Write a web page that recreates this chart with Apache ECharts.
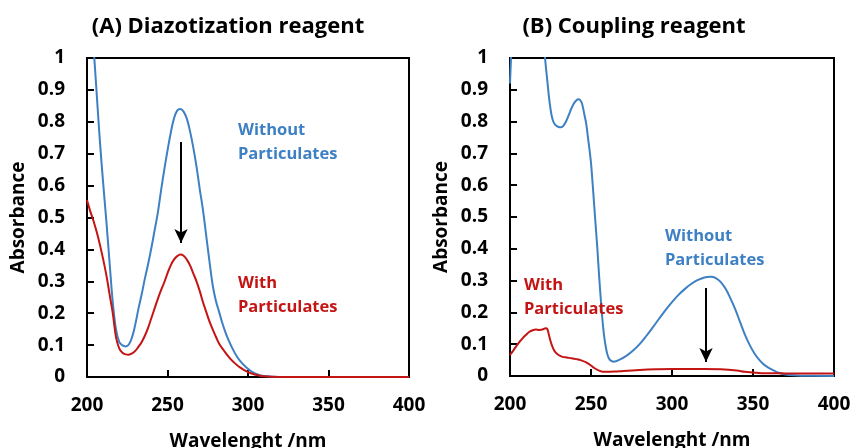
<!DOCTYPE html>
<html><head><meta charset="utf-8">
<script src="https://cdn.jsdelivr.net/npm/echarts@6/dist/echarts.min.js"></script>
<style>html,body{margin:0;padding:0;background:#fff}#c{width:853px;height:448px}</style>
</head><body><div id="c"></div>
<script>
// ---- data ----
const xTicks = [200, 250, 300, 350, 400];
const yTicks = [0, 0.1, 0.2, 0.3, 0.4, 0.5, 0.6, 0.7, 0.8, 0.9, 1];
const titles = ['(A) Diazotization reagent', '(B) Coupling reagent'];
const seriesNames = ['Without\nParticulates', 'With\nParticulates'];

// (A) Diazotization reagent, without particulates
const wlA_without = [200,202,204,206,208,210,212,214,216,218,220,222,224,226,228,230,232,234,236,238,240,242,244,246,248,250,252,254,256,258,260,262,264,266,268,270,272,274,276,278,280,282,284,286,288,290,293,296,299,302,306,310,315,320,400];
const absA_without = [1.33,1.18,1.04,0.89,0.74,0.61,0.49,0.36,0.235,0.15,0.11,0.099,0.096,0.102,0.125,0.165,0.215,0.26,0.31,0.355,0.405,0.46,0.515,0.585,0.65,0.71,0.765,0.81,0.835,0.84,0.832,0.81,0.77,0.72,0.66,0.59,0.525,0.445,0.365,0.29,0.24,0.205,0.17,0.14,0.115,0.093,0.065,0.045,0.03,0.018,0.008,0.003,0.001,0,0];
// (A) with particulates
const wlA_with = [200,202,204,206,208,210,212,214,216,218,220,222,224,226,228,230,232,234,236,238,240,242,244,246,248,250,252,254,256,258,260,262,264,266,268,270,272,274,276,278,280,282,285,288,291,295,300,305,310,320,400];
const absA_with = [0.555,0.52,0.49,0.455,0.415,0.37,0.32,0.26,0.2,0.125,0.09,0.076,0.071,0.07,0.074,0.082,0.095,0.11,0.13,0.155,0.185,0.215,0.245,0.272,0.297,0.325,0.35,0.368,0.379,0.384,0.38,0.368,0.35,0.325,0.3,0.27,0.235,0.205,0.175,0.15,0.127,0.105,0.083,0.063,0.047,0.03,0.015,0.007,0.002,0,0];
// (B) Coupling reagent, without particulates
const wlB_without = [200,201,202,205,210,215,218,220,221,222,223,224,225,226,227,228,230,231.5,233,235,237,239,241,242.5,244,245,246,247,248,249,250,251,252,253,254,255,256,257,258,259,260,261,262,264,268,272,276,280,284,288,292,296,300,304,308,312,316,320,324,327,330,333,336,339,342,345,348,351,354,357,360,363,366,370,375,380,400];
const absB_without = [0.92,1.05,1.2,1.5,1.7,1.6,1.35,1.12,1.04,0.98,0.93,0.88,0.84,0.812,0.797,0.789,0.783,0.782,0.787,0.805,0.83,0.853,0.867,0.87,0.862,0.845,0.82,0.795,0.755,0.715,0.67,0.605,0.535,0.465,0.395,0.315,0.245,0.18,0.13,0.095,0.07,0.056,0.049,0.045,0.052,0.064,0.08,0.1,0.125,0.152,0.18,0.207,0.232,0.255,0.274,0.29,0.302,0.31,0.312,0.308,0.296,0.275,0.245,0.21,0.17,0.13,0.097,0.07,0.05,0.035,0.025,0.017,0.01,0.005,0.002,0.001,0];
// (B) with particulates
const wlB_with = [200,202,204,206,208,210,212,214,216,218,220,222,223,224,225,226,227,228,230,232,235,238,241,244,247,250,252,254,256,258,260,265,270,280,290,300,310,320,330,340,345,350,355,360,370,380,400];
const absB_with = [0.066,0.08,0.095,0.108,0.12,0.13,0.139,0.144,0.146,0.145,0.146,0.15,0.148,0.13,0.11,0.095,0.083,0.075,0.066,0.061,0.058,0.056,0.053,0.049,0.043,0.033,0.025,0.019,0.015,0.013,0.013,0.014,0.016,0.019,0.021,0.022,0.022,0.022,0.021,0.017,0.013,0.011,0.009,0.009,0.008,0.008,0.008];

// arrows (data coordinates): [x, yStart, yEnd]
const arrowA = [258.4, 0.737, 0.42];
const arrowB = [321, 0.277, 0.044];

// ---- styling ----
const BLUE = '#3d80c3', RED = '#c41414', FONT = '"Open Sans"';
const zip = (xs, ys) => xs.map((x, i) => [x, ys[i]]);

function xAx(gi) {
  return {
    gridIndex: gi, type: 'value', min: 200, max: 400, interval: 50,
    axisLine: {show: true, lineStyle: {color: '#000', width: 2}},
    axisTick: {show: true, inside: true, length: 7, lineStyle: {color: '#000', width: 2}},
    axisLabel: {color: '#000', fontFamily: 'Open Sans', fontWeight: 'bold', fontSize: 19, margin: 19},
    splitLine: {show: false},
    name: 'Wavelenght /nm', nameLocation: 'middle', nameGap: 55,
    nameTextStyle: {color: '#000', fontFamily: 'Open Sans', fontWeight: 'bold', fontSize: 19}
  };
}
function yAx(gi) {
  return {
    gridIndex: gi, type: 'value', min: 0, max: 1, interval: 0.1,
    axisLine: {show: true, lineStyle: {color: '#000', width: 2}},
    axisTick: {show: true, inside: true, length: 7, lineStyle: {color: '#000', width: 2}},
    axisLabel: {color: '#000', fontFamily: 'Open Sans', fontWeight: 'bold', fontSize: 19, margin: 22},
    splitLine: {show: false},
    name: 'Absorbance', nameLocation: 'middle', nameGap: 59,
    nameTextStyle: {color: '#000', fontFamily: 'Open Sans', fontWeight: 'bold', fontSize: 19}
  };
}
function line(name, gi, data, color, arrow) {
  const s = {
    name, type: 'line', xAxisIndex: gi, yAxisIndex: gi, data,
    showSymbol: false, smooth: 0.4, clip: true,
    lineStyle: {color, width: 2}, itemStyle: {color}, z: 3
  };
  if (arrow) {
    s.markLine = {
      silent: true, symbol: ['none', 'arrow'], symbolSize: [10, 14],
      lineStyle: {color: '#000', width: 2, type: 'solid'}, label: {show: false},
      emphasis: {disabled: true}, animation: false,
      data: [[{coord: [arrow[0], arrow[1]]}, {coord: [arrow[0], arrow[2]]}]]
    };
  }
  return s;
}
function label(x, y, text, color) {
  return {type: 'text', left: x, top: y, z: 10,
    style: {text, fill: color, font: 'bold 16.5px ' + FONT, lineHeight: 24}};
}
function title(x, y, text) {
  return {type: 'text', x, y, z: 10,
    style: {text, fill: '#000', font: 'bold 22px ' + FONT, align: 'center', verticalAlign: 'middle'}};
}

const chart = echarts.init(document.getElementById('c'), null, {renderer: 'canvas'});
chart.setOption({
  animation: false,
  backgroundColor: '#fff',
  grid: [
    {left: 87, top: 58, width: 322, height: 319, outerBoundsMode: 'none', containLabel: false, show: true, borderColor: '#000', borderWidth: 2, backgroundColor: 'transparent'},
    {left: 510, top: 58, width: 324, height: 318, outerBoundsMode: 'none', containLabel: false, show: true, borderColor: '#000', borderWidth: 2, backgroundColor: 'transparent'}
  ],
  xAxis: [xAx(0), xAx(1)],
  yAxis: [yAx(0), yAx(1)],
  series: [
    line(seriesNames[0], 0, zip(wlA_without, absA_without), BLUE, arrowA),
    line(seriesNames[1], 0, zip(wlA_with, absA_with), RED),
    line(seriesNames[0], 1, zip(wlB_without, absB_without), BLUE, arrowB),
    line(seriesNames[1], 1, zip(wlB_with, absB_with), RED)
  ],
  graphic: [
    title(228, 27, titles[0]),
    title(634, 27, titles[1]),
    label(238, 118, seriesNames[0], BLUE),
    label(238, 271, seriesNames[1], RED),
    label(665, 224, seriesNames[0], BLUE),
    label(524, 273, seriesNames[1], RED)
  ]
});
</script>
</body></html>
